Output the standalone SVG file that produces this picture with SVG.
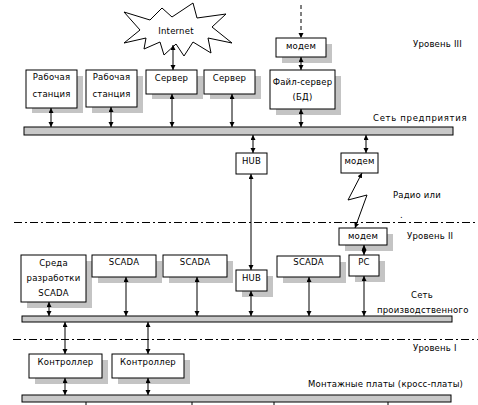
<svg xmlns="http://www.w3.org/2000/svg" width="478" height="405" viewBox="0 0 478 405">
<style>
.box{fill:#fff;stroke:#000;stroke-width:1}
.sh{fill:#c4c4c4}
.bus{fill:#c8c8c8;stroke:#000;stroke-width:1}
text{font-family:"DejaVu Sans",Verdana,sans-serif;font-size:8.5px;fill:#000;letter-spacing:0.2px}
.c{text-anchor:middle}
.ln{stroke:#000;stroke-width:1;fill:none}
.dd{stroke:#000;stroke-width:1;stroke-dasharray:8,3,2,3;fill:none}
</style>
<defs>
<marker id="ah" markerUnits="userSpaceOnUse" markerWidth="6" markerHeight="6" refX="5" refY="2.5" orient="auto-start-reverse">
<path d="M0,0 L5,2.5 L0,5 z" fill="#000"/>
</marker>
</defs>
<rect width="478" height="405" fill="#fff"/>
<g id="buses">
<rect class="bus" x="24" y="127" width="429" height="8"/>
<rect class="bus" x="22" y="316" width="430" height="6"/>
<rect class="bus" x="22" y="395" width="429" height="7"/>
</g>
<g id="levels">
<line class="dd" x1="14" y1="222.5" x2="478" y2="222.5"/>
<line class="dd" x1="13" y1="339.5" x2="478" y2="339.5"/>
<text x="413" y="47">Уровень III</text>
<text x="407" y="239">Уровень II</text>
<text x="413" y="351">Уровень I</text>
<text x="373" y="121" style="letter-spacing:0.7px">Сеть предприятия</text>
<text x="393" y="198">Радио или</text>
<text x="400" y="218">.</text>
<text x="422" y="298" class="c">Сеть</text>
<text x="377" y="313">производственного</text>
<text x="308" y="387">Монтажные платы (кросс-платы)</text>
</g>
<g id="internet">
<polygon points="124,12 150,20 162,8 172,17 193,3 197,18 226,14 212,27 232,43 208,38 211,53 193,42 184,56 176,44 164,55 160,42 144,49 146,38 124,43 140,30" fill="#fff" stroke="#000" stroke-width="1"/>
<text x="176" y="34" class="c">Internet</text>
</g>
<g id="ws1"><rect class="sh" x="32" y="76" width="51" height="37"/><rect class="box" x="26" y="70" width="51" height="38"/><text x="51.5" y="80" class="c">Рабочая</text><text x="51.5" y="97" class="c">станция</text></g>
<g id="ws2"><rect class="sh" x="92" y="76" width="51" height="37"/><rect class="box" x="86" y="70" width="51" height="37"/><text x="111.5" y="80" class="c">Рабочая</text><text x="111.5" y="97" class="c">станция</text></g>
<g id="server1"><rect class="sh" x="152" y="76" width="51" height="23"/><rect class="box" x="146" y="70" width="51" height="24"/><text x="171.5" y="81" class="c">Сервер</text></g>
<g id="server2"><rect class="sh" x="210" y="76" width="51" height="23"/><rect class="box" x="204" y="70" width="51" height="24"/><text x="229.5" y="81" class="c">Сервер</text></g>
<g id="modem-top"><rect class="sh" x="282" y="44" width="50" height="19"/><rect class="box" x="276" y="38" width="50" height="19"/><text x="301" y="49" class="c">модем</text></g>
<g id="fileserver"><rect class="sh" x="276" y="76" width="65" height="39"/><rect class="box" x="270" y="70" width="65" height="39"/><text x="302.5" y="85" class="c">Файл-сервер</text><text x="302.5" y="100" class="c">(БД)</text></g>
<g id="hub1"><rect class="box" x="236" y="153" width="31" height="21"/><text x="251.5" y="164" class="c">HUB</text></g>
<g id="modem-mid"><rect class="box" x="341" y="153" width="37" height="20"/><text x="359.5" y="164" class="c">модем</text></g>
<g id="modem2"><rect class="sh" x="345" y="234" width="48" height="17"/><rect class="box" x="339" y="228" width="48" height="17"/><text x="363" y="239" class="c">модем</text></g>
<g id="pc"><rect class="sh" x="355" y="261" width="30" height="21"/><rect class="box" x="349" y="255" width="30" height="21"/><text x="364" y="265" class="c">PC</text></g>
<g id="sreda"><rect class="sh" x="27" y="261" width="65" height="47"/><rect class="box" x="21" y="255" width="65" height="47"/><text x="53.5" y="266" class="c">Среда</text><text x="53.5" y="281" class="c">разработки</text><text x="53.5" y="296" class="c">SCADA</text></g>
<g id="scada1"><rect class="sh" x="98" y="261" width="64" height="22"/><rect class="box" x="92" y="255" width="64" height="22"/><text x="124" y="265" class="c">SCADA</text></g>
<g id="scada2"><rect class="sh" x="169" y="261" width="64" height="22"/><rect class="box" x="163" y="255" width="64" height="22"/><text x="195" y="265" class="c">SCADA</text></g>
<g id="hub2"><rect class="sh" x="242" y="276" width="31" height="21"/><rect class="box" x="236" y="270" width="31" height="21"/><text x="251.5" y="281" class="c">HUB</text></g>
<g id="scada3"><rect class="sh" x="283" y="262" width="63" height="21"/><rect class="box" x="277" y="256" width="63" height="21"/><text x="308.5" y="265" class="c">SCADA</text></g>
<g id="ctrl1"><rect class="sh" x="35" y="360" width="73" height="24"/><rect class="box" x="29" y="354" width="73" height="24"/><text x="65.5" y="365" class="c">Контроллер</text></g>
<g id="ctrl2"><rect class="sh" x="118" y="360" width="72" height="24"/><rect class="box" x="112" y="354" width="72" height="24"/><text x="148" y="365" class="c">Контроллер</text></g>
<g id="connectors">
<line class="ln" x1="173" y1="45" x2="173" y2="70" marker-start="url(#ah)" marker-end="url(#ah)"/>
<line class="ln" x1="301" y1="5" x2="301" y2="38" stroke-dasharray="4,3" marker-end="url(#ah)"/>
<line class="ln" x1="301" y1="57" x2="301" y2="70" marker-start="url(#ah)" marker-end="url(#ah)"/>
<line class="ln" x1="51" y1="108" x2="51" y2="127" marker-start="url(#ah)" marker-end="url(#ah)"/>
<line class="ln" x1="111" y1="107" x2="111" y2="127" marker-start="url(#ah)" marker-end="url(#ah)"/>
<line class="ln" x1="172" y1="94" x2="172" y2="127" marker-start="url(#ah)" marker-end="url(#ah)"/>
<line class="ln" x1="232" y1="94" x2="232" y2="127" marker-start="url(#ah)" marker-end="url(#ah)"/>
<line class="ln" x1="301" y1="109" x2="301" y2="127" marker-start="url(#ah)" marker-end="url(#ah)"/>
<line class="ln" x1="253" y1="135" x2="253" y2="153" marker-start="url(#ah)" marker-end="url(#ah)"/>
<line class="ln" x1="366" y1="135" x2="366" y2="153" marker-start="url(#ah)" marker-end="url(#ah)"/>
<line class="ln" x1="251" y1="174" x2="251" y2="270" marker-start="url(#ah)" marker-end="url(#ah)"/>
<polyline class="ln" points="362,173 348,200 367,195 355,228" marker-start="url(#ah)" marker-end="url(#ah)"/>
<line class="ln" x1="364" y1="245" x2="364" y2="255" marker-start="url(#ah)" marker-end="url(#ah)"/>
<line class="ln" x1="49" y1="302" x2="49" y2="316" marker-start="url(#ah)" marker-end="url(#ah)"/>
<line class="ln" x1="126" y1="277" x2="126" y2="316" marker-start="url(#ah)" marker-end="url(#ah)"/>
<line class="ln" x1="197" y1="277" x2="197" y2="316" marker-start="url(#ah)" marker-end="url(#ah)"/>
<line class="ln" x1="251" y1="291" x2="251" y2="316" marker-start="url(#ah)" marker-end="url(#ah)"/>
<line class="ln" x1="309" y1="277" x2="309" y2="316" marker-start="url(#ah)" marker-end="url(#ah)"/>
<line class="ln" x1="364" y1="276" x2="364" y2="316" marker-start="url(#ah)" marker-end="url(#ah)"/>
<line class="ln" x1="65" y1="322" x2="65" y2="354" marker-start="url(#ah)" marker-end="url(#ah)"/>
<line class="ln" x1="148" y1="322" x2="148" y2="354" marker-start="url(#ah)" marker-end="url(#ah)"/>
<line class="ln" x1="65" y1="378" x2="65" y2="395" marker-start="url(#ah)" marker-end="url(#ah)"/>
<line class="ln" x1="148" y1="378" x2="148" y2="395" marker-start="url(#ah)" marker-end="url(#ah)"/>
<line class="ln" x1="86" y1="402" x2="86" y2="405"/>
<line class="ln" x1="192" y1="402" x2="192" y2="405"/>
<line class="ln" x1="274" y1="402" x2="274" y2="405"/>
<line class="ln" x1="388" y1="402" x2="388" y2="405"/>
</g>
</svg>
